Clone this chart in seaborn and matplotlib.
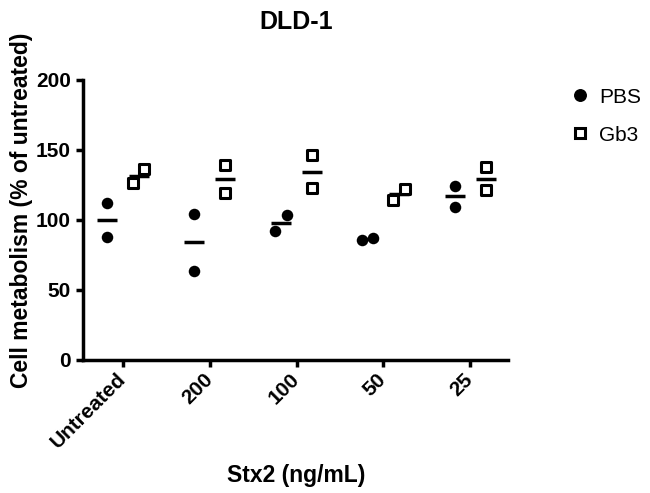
import numpy as np
import pandas as pd
import matplotlib.pyplot as plt
import seaborn as sns
from matplotlib.lines import Line2D

# Values (two replicates per condition)
doses = ["Untreated", "200", "100", "50", "25"]
treatments = ["PBS", "Gb3"]
pbs_vals = [[112.4, 87.6], [104.3, 63.6], [92.4, 103.6], [85.7, 87.4], [124.5, 109.5]]
gb3_vals = [[126.2, 136.4], [139.0, 119.0], [146.0, 123.0], [114.3, 122.0], [137.6, 121.0]]

sns.set_style("ticks")
plt.rcParams["font.family"] = ["Liberation Sans", "DejaVu Sans"]
for key in ["text.color", "axes.labelcolor", "xtick.color", "ytick.color"]:
    plt.rcParams[key] = "black"

dodge = {"PBS": -0.18, "Gb3": 0.18}
nudge = 0.065  # spread replicates that sit close together

rows = []
for trt, vals in zip(treatments, [pbs_vals, gb3_vals]):
    for i, pair in enumerate(vals):
        lo, hi = sorted(pair)
        close = (hi - lo) < 13
        for v in pair:
            off = 0.0
            if close:
                off = -nudge if v == lo else nudge
            rows.append({"dose": doses[i], "treatment": trt, "value": v,
                         "center": i + dodge[trt], "pos": i + dodge[trt] + off})
df = pd.DataFrame(rows)
means = df.groupby(["dose", "treatment"], sort=False).agg(
    value=("value", "mean"), center=("center", "first")).reset_index()

fig = plt.figure(figsize=(6.5, 4.93), dpi=100)
ax = fig.add_axes([0.128, 0.270, 0.654, 0.568])

# mean bars first, so overlapping markers cover them
sns.scatterplot(data=means, x="center", y="value", marker="_", s=15**2,
                color="black", linewidth=2.5, ax=ax, legend=False, zorder=2)
sns.scatterplot(data=df[df.treatment == "PBS"], x="pos", y="value", marker="o",
                s=8.3**2, color="black", linewidth=0, ax=ax, legend=False, zorder=3)
sns.scatterplot(data=df[df.treatment == "Gb3"], x="pos", y="value", marker="s",
                s=7.4**2, facecolor="white", edgecolor="black", linewidth=2.2,
                ax=ax, legend=False, zorder=3)

ax.set_xlim(-0.46, 4.44)
ax.set_ylim(0, 200)
ax.set_yticks(np.arange(0, 201, 50))
ax.set_xticks(range(len(doses)))
ax.set_xticklabels(doses, rotation=45, ha="right", va="center", rotation_mode="anchor")
for lab in ax.get_xticklabels() + ax.get_yticklabels():
    lab.set_fontweight("bold")
    lab.set_fontsize(15)
ax.tick_params(width=2.5, length=5, pad=4, color="black")
ax.tick_params(axis="x", pad=7)

sns.despine(ax=ax)
for sp in ["left", "bottom"]:
    ax.spines[sp].set_linewidth(2.5)
    ax.spines[sp].set_color("black")

ax.set_xlabel("Stx2 (ng/mL)", fontsize=16.5, fontweight="bold")
ax.xaxis.set_label_coords(0.5, -0.372)
ax.set_ylabel("Cell metabolism (% of untreated)", fontsize=16.5, fontweight="bold")
ax.yaxis.set_label_coords(-0.118, 0.535)
fig.text(0.455, 0.955, "DLD-1", fontsize=18, fontweight="bold", ha="center", va="center")

handles = [
    Line2D([], [], marker="o", linestyle="none", color="black", markersize=8.3),
    Line2D([], [], marker="s", linestyle="none", markerfacecolor="white",
           markeredgecolor="black", markeredgewidth=2.2, markersize=7.4),
]
ax.legend(handles, treatments, loc="upper left", bbox_to_anchor=(0.848, 0.86),
          bbox_transform=fig.transFigure, frameon=False, fontsize=15,
          handletextpad=0.4, labelspacing=0.9, handlelength=1.0)

fig.savefig("out.png", dpi=100)
